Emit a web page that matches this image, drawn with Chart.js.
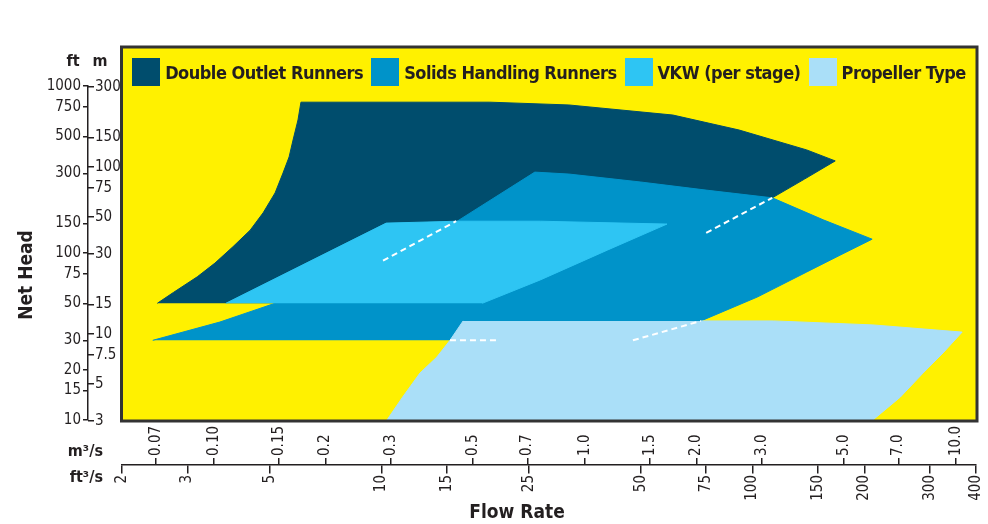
<!DOCTYPE html>
<html>
<head>
<meta charset="utf-8">
<title>Runner selection chart</title>
<script src="https://cdn.jsdelivr.net/npm/chart.js@4.4.1/dist/chart.umd.min.js"></script>
<style>
  html, body { margin: 0; padding: 0; background: #fff; }
  #wrap { position: relative; width: 988px; height: 524px; }
  #legend {
    position: absolute; display: flex; justify-content: center; align-items: center; height: 28px;
    font: bold 18px 'DejaVu Sans Condensed', 'Liberation Sans Narrow', sans-serif; color: #231f20;
    letter-spacing: -0.5px; white-space: nowrap;
  }
  #legend .item { display: flex; align-items: center; margin: 0 4px; }
  #legend .swatch { width: 28px; height: 28px; margin-right: 5px; }
</style>
</head>
<body>
<div id="wrap">
  <canvas id="chart" width="988" height="524"></canvas>
  <div id="legend"></div>
</div>
<script>
// Flow rate ticks: ft³/s under the axis line, m³/s above it
const flowCfsTicks = [2, 3, 5, 10, 15, 25, 50, 75, 100, 150, 200, 300, 400];
const flowCmsTicks = ['0.07', '0.10', '0.15', '0.2', '0.3', '0.5', '0.7', '1.0', '1.5', '2.0', '3.0', '5.0', '7.0', '10.0'];
// Net head ticks: ft on the left of the axis line, m on the right
const headFtTicks = [10, 15, 20, 30, 50, 75, 100, 150, 300, 500, 750, 1000];
const headMTicks = ['3', '5', '7.5', '10', '15', '30', '50', '75', '100', '150', '300'];

const regionLabels = ['Double Outlet Runners', 'Solids Handling Runners', 'VKW (per stage)', 'Propeller Type'];
const regionColors = ['#004d6d', '#0093c9', '#2ec5f3', '#aadff8'];

// region outlines as [flow ft³/s, head ft]
const doubleOutlet = [
  [2.49, 50], [2.75, 58], [3.19, 72], [3.56, 87], [3.98, 109], [4.43, 137], [4.8, 174], [5.17, 229],
  [5.43, 301], [5.64, 376], [5.78, 475], [5.96, 626], [6.07, 800],
  [19.6, 800], [32, 770], [61, 670], [92, 545], [140, 414], [167, 356],
  [138, 277], [113, 214], [75, 132], [34, 50]
];
const solidsHandling = [
  [2.42, 30], [3.67, 38.6], [5.1, 49.5], [10.1, 90], [16, 155], [25.9, 305], [32, 297], [50, 266],
  [75, 238], [113, 214], [155, 158], [210, 121], [172, 97], [140, 77], [103, 54.5], [72.6, 39.2], [47.6, 30]
];
const vkw = [
  [3.81, 50], [10.3, 151], [16, 155], [26.8, 155], [58.8, 149], [40.6, 104], [26.8, 69], [18.7, 50]
];
const propeller = [
  [16.6, 39.2], [15.3, 30], [14.1, 23.8], [12.7, 19.1], [11.4, 13.7], [10.35, 10], [211, 10],
  [250, 13.7], [288, 19.1], [326, 25.2], [367, 33.6], [211, 37.1], [114, 39.2], [72.6, 39.2]
];
// white dashed lines where an edge runs under another region
const hiddenEdges = [
  [[10.1, 90], [15.9, 155]],
  [[75, 132], [113, 214]],
  [[15.3, 30], [20.5, 30]],
  [[47.6, 30], [72.6, 39.2]]
];

const FT_PER_M = 3.28084;
const CFS_PER_CMS = 35.3147;
const FLOW_AXIS_HEAD = 5.38;   // head value where the flow axis line sits, under the frame
const INK = '#231f20';
const FIELD = '#fff100';
const FONT = "'DejaVu Sans Condensed', 'Liberation Sans Narrow', sans-serif";

Chart.defaults.font.family = FONT;
Chart.defaults.font.size = 15;
Chart.defaults.color = INK;

// log scale whose rotated labels grow upward from the anchor
class UpLabelLogScale extends Chart.LogarithmicScale {
  static id = 'logUpLabels';
  _getXAxisLabelAlignment() { return 'left'; }
}
Chart.register(UpLabelLogScale);

const toXY = pts => pts.map(p => ({ x: p[0], y: p[1] }));

const regions = [doubleOutlet, solidsHandling, vkw, propeller];
const datasets = regions.map((pts, i) => ({
  label: regionLabels[i],
  data: toXY(pts),
  backgroundColor: regionColors[i],
  borderColor: regionColors[i],
  borderWidth: 1,
  fill: 'shape',
  showLine: true,
  pointRadius: 0,
  order: regions.length - i
}));
hiddenEdges.forEach(edge => datasets.push({
  label: '',
  data: toXY(edge),
  borderColor: '#ffffff',
  borderWidth: 2,
  borderDash: [6, 4],
  fill: false,
  showLine: true,
  pointRadius: 0,
  order: 0
}));

// yellow field and dark frame
const plotFrame = {
  id: 'plotFrame',
  beforeDraw(chart) {
    const { ctx, chartArea: a } = chart;
    ctx.save();
    ctx.fillStyle = FIELD;
    ctx.fillRect(a.left, a.top - 39, a.right - a.left, a.bottom - a.top + 39);
    ctx.restore();
  },
  afterDatasetsDraw(chart) {
    const { ctx, chartArea: a } = chart;
    ctx.save();
    ctx.strokeStyle = '#333';
    ctx.lineWidth = 3;
    ctx.strokeRect(a.left - 0.5, a.top - 39, a.right - a.left + 1.5, a.bottom - a.top + 40);
    ctx.restore();
  }
};

// axis titles and unit labels
const axisTitles = {
  id: 'axisTitles',
  afterDraw(chart) {
    const { ctx } = chart;
    const yAxis = chart.scales.y;
    const lineY = yAxis.getPixelForValue(FLOW_AXIS_HEAD);
    ctx.save();
    ctx.fillStyle = INK;
    ctx.textBaseline = 'middle';
    ctx.font = 'bold 16px ' + FONT;
    ctx.textAlign = 'center';
    ctx.fillText('ft', yAxis.right - 15, 62);
    ctx.fillText('m', yAxis.right + 12, 62);
    ctx.textAlign = 'right';
    ctx.fillText('m³/s', 103, lineY - 13);
    ctx.fillText('ft³/s', 103, lineY + 13);
    ctx.font = 'bold 19px ' + FONT;
    ctx.textAlign = 'center';
    ctx.fillText('Flow Rate', 517, 513);
    ctx.translate(27, 275);
    ctx.rotate(-Math.PI / 2);
    ctx.fillText('Net Head', 0, 0);
    ctx.restore();
  }
};

// legend as html inside the top of the frame
const htmlLegend = {
  id: 'htmlLegend',
  afterUpdate(chart) {
    const box = document.getElementById('legend');
    const a = chart.chartArea;
    box.style.left = a.left + 'px';
    box.style.width = (a.right - a.left) + 'px';
    box.style.top = (a.top - 28) + 'px';
    box.innerHTML = '';
    regionLabels.forEach((label, i) => {
      const item = document.createElement('div');
      item.className = 'item';
      const sw = document.createElement('span');
      sw.className = 'swatch';
      sw.style.background = regionColors[i];
      const txt = document.createElement('span');
      txt.textContent = label;
      item.appendChild(sw);
      item.appendChild(txt);
      box.appendChild(item);
    });
  }
};

const tickGrid = len => ({ drawOnChartArea: false, tickLength: len, color: INK, lineWidth: 1.5 });
// flow axes sit under the frame, so their end labels need no extra room
const noSidePadding = s => { s.paddingLeft = 0; s.paddingRight = 0; };

new Chart(document.getElementById('chart'), {
  type: 'scatter',
  data: { datasets },
  options: {
    responsive: false,
    animation: false,
    events: [],
    layout: { padding: { top: 86, right: 12, bottom: 104, left: 30 } },
    plugins: { legend: { display: false }, tooltip: { enabled: false } },
    scales: {
      x: {
        type: 'logarithmic', min: 2, max: 400, bounds: 'data',
        position: { y: FLOW_AXIS_HEAD },
        afterBuildTicks: s => { s.ticks = flowCfsTicks.map(v => ({ value: v })); },
        afterFit: noSidePadding,
        ticks: { autoSkip: false, minRotation: 90, maxRotation: 90, padding: 2, callback: v => String(v) },
        grid: tickGrid(8),
        border: { display: true, color: INK, width: 1.5 }
      },
      xm: {
        type: 'logUpLabels', axis: 'x', min: 2 / CFS_PER_CMS, max: 400 / CFS_PER_CMS, bounds: 'data',
        position: { y: FLOW_AXIS_HEAD },
        afterBuildTicks: s => { s.ticks = flowCmsTicks.map(t => ({ value: parseFloat(t) })); },
        afterFit: noSidePadding,
        ticks: { autoSkip: false, minRotation: 90, maxRotation: 90, padding: -2, callback: (v, i) => flowCmsTicks[i] },
        grid: tickGrid(-7),
        border: { display: false }
      },
      y: {
        type: 'logarithmic', min: 10, max: 1000, bounds: 'data', position: 'left', weight: 2,
        afterBuildTicks: s => { s.ticks = headFtTicks.map(v => ({ value: v })); },
        afterFit: s => { s.width = 58; },
        ticks: { autoSkip: false, padding: 2, callback: v => String(v) },
        grid: tickGrid(5),
        border: { display: true, color: INK, width: 1.5 }
      },
      ym: {
        type: 'logarithmic', axis: 'y', min: 10 / FT_PER_M, max: 1000 / FT_PER_M, bounds: 'data',
        position: 'left', weight: 1,
        afterBuildTicks: s => { s.ticks = headMTicks.map(t => ({ value: parseFloat(t) })); },
        afterFit: s => { s.width = 0; },
        ticks: { autoSkip: false, mirror: true, padding: 7, callback: (v, i) => headMTicks[i] },
        grid: tickGrid(-6),
        border: { display: false }
      },
      gap: {
        type: 'linear', axis: 'y', position: 'left', weight: 0,
        afterFit: s => { s.width = 34; },
        ticks: { display: false },
        grid: { display: false },
        border: { display: false }
      }
    }
  },
  plugins: [plotFrame, axisTitles, htmlLegend]
});
</script>
</body>
</html>
